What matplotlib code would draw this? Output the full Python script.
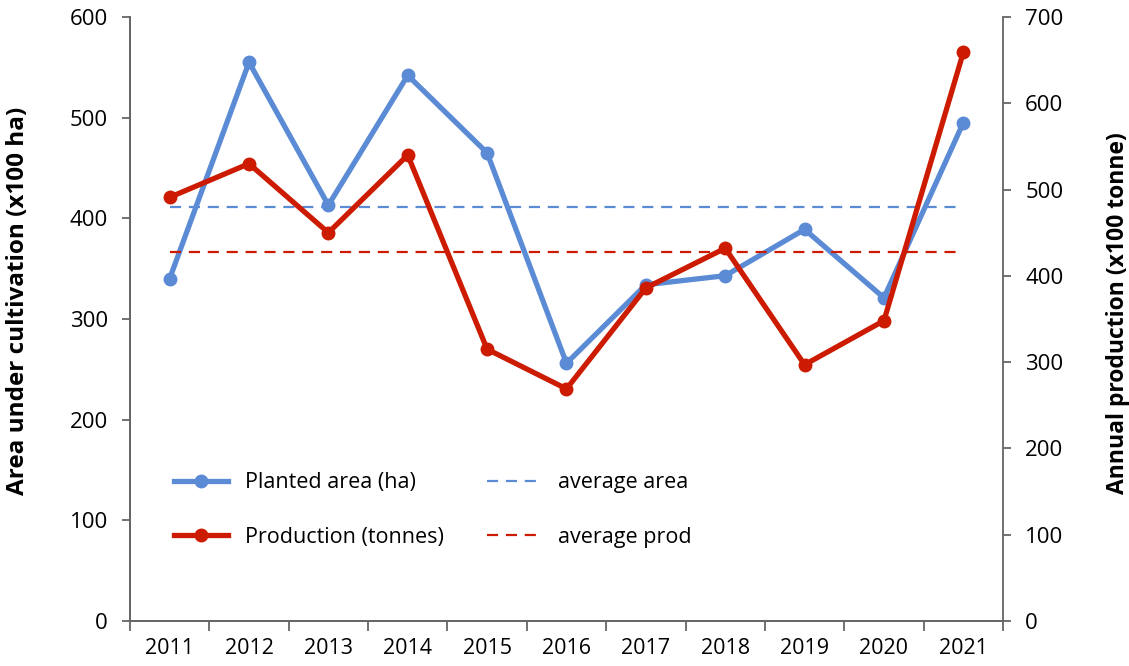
import matplotlib
matplotlib.use("Agg")
import matplotlib.pyplot as plt
from matplotlib.lines import Line2D

# --- dados ---
anos = ["2011", "2012", "2013", "2014", "2015", "2016", "2017", "2018", "2019", "2020", "2021"]
area = [340, 555, 413, 542, 465, 256, 334, 343, 389, 321, 495]        # x100 ha
producao = [491, 530, 450, 540, 315, 269, 386, 432, 297, 348, 659]    # x100 tonne
media_area = 411
media_prod = 428

AZUL = "#5B8BD5"
VERMELHO = "#CC1B00"
CINZA = "#666666"

plt.rcParams["font.family"] = ["Open Sans", "DejaVu Sans"]

fig = plt.figure(figsize=(11.29, 6.66), dpi=100)
ax = fig.add_axes([0.1151, 0.0676, 0.7733, 0.9069])
ax2 = ax.twinx()

x = list(range(len(anos)))

# linhas principais
ax.plot(x, area, color=AZUL, lw=3.8, marker="o", ms=9, zorder=3)
ax.plot([x[0], x[-1]], [media_area, media_area], color=AZUL, lw=1.6,
        dashes=(5, 3.5), zorder=2)
ax2.plot(x, producao, color=VERMELHO, lw=3.8, marker="o", ms=9, zorder=3)
ax2.plot([x[0], x[-1]], [media_prod, media_prod], color=VERMELHO, lw=1.6,
         dashes=(5, 3.5), zorder=2)

# eixos
ax.set_xlim(-0.5, len(anos) - 0.5)
ax.set_ylim(0, 600)
ax2.set_ylim(0, 700)
ax.set_yticks(range(0, 601, 100))
ax2.set_yticks(range(0, 701, 100))

ax.set_xticks([i - 0.5 for i in range(len(anos) + 1)])
ax.set_xticklabels([])
ax.set_xticks(x, minor=True)
ax.set_xticklabels(anos, minor=True)
ax.tick_params(axis="x", which="major", length=7, width=1.3, color=CINZA, direction="out")
ax.tick_params(axis="x", which="minor", length=0, pad=12, labelsize=15.5)

ax.tick_params(axis="y", length=6, width=1.3, color=CINZA, labelsize=16, pad=10)
ax2.tick_params(axis="y", length=6, width=1.3, color=CINZA, labelsize=16, pad=10)

for a in (ax, ax2):
    a.spines["top"].set_visible(False)
    for s in ("left", "right", "bottom"):
        a.spines[s].set_color(CINZA)
        a.spines[s].set_linewidth(1.3)
ax.spines["right"].set_visible(False)

ax.set_ylabel("Area under cultivation (x100 ha)", fontsize=17.5, fontweight="bold")
ax.yaxis.set_label_coords(-0.115, 0.53)
ax2.set_ylabel("Annual production (x100 tonne)", fontsize=16.5, fontweight="bold")
ax2.yaxis.set_label_coords(1.118, 0.51)

# legenda
handles = [
    Line2D([], [], color=AZUL, lw=3.8, marker="o", ms=9),
    Line2D([], [], color=VERMELHO, lw=3.8, marker="o", ms=9),
    Line2D([], [], color=AZUL, lw=1.6, dashes=(5, 3.5)),
    Line2D([], [], color=VERMELHO, lw=1.6, dashes=(5, 3.5)),
]
labels = ["Planted area (ha)", "Production (tonnes)", "average area", "average prod"]
ax2.legend(handles, labels, ncol=2, frameon=False, fontsize=15.5,
           loc="upper left", bbox_to_anchor=(0.028, 0.278),
           handlelength=2.5, handletextpad=0.8, columnspacing=2.0,
           labelspacing=1.55, markerscale=1.0)

fig.savefig("out.png", dpi=100)
